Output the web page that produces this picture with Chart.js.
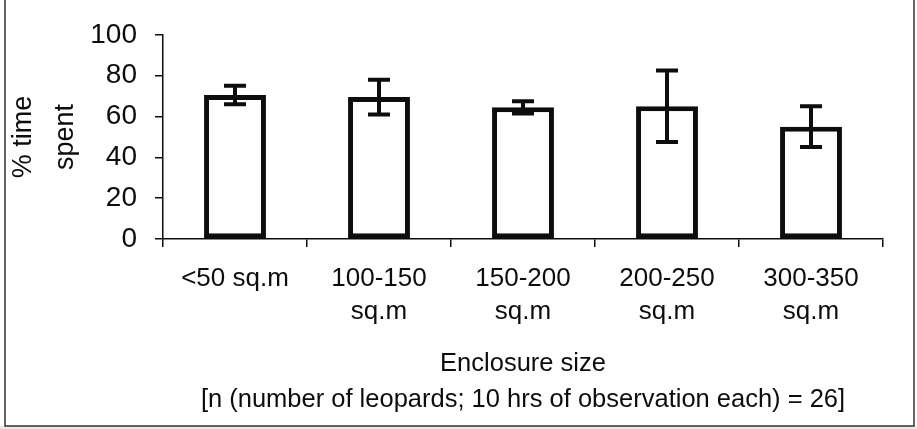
<!DOCTYPE html>
<html>
<head>
<meta charset="utf-8">
<script src="https://cdn.jsdelivr.net/npm/chart.js@4"></script>
<style>
  html, body { margin: 0; padding: 0; background: #fff; }
  #wrap { width: 917px; height: 429px; }
</style>
</head>
<body>
<div id="wrap"><canvas id="timeChart" width="917" height="429"></canvas></div>
<script>
// % time spent by enclosure size

const sizeLabels = [["<50 sq.m"], ["100-150", "sq.m"], ["150-200", "sq.m"], ["200-250", "sq.m"], ["300-350", "sq.m"]];
const timeSpent = [70.5, 69.5, 64.5, 65, 55];
const timeError = [4.5, 8.5, 3, 17.5, 10];
const yTicks = [0, 20, 40, 60, 80, 100];
const xTitle = ["Enclosure size", "[n (number of leopards; 10 hrs of observation each) = 26]"];
const yTitle = ["% time", "spent"];

const ink = "#0d0d0d";
const fontFamily = "'Liberation Sans', Arial, sans-serif";

// page background + scan frame
const framePlugin = {
  id: "frame",
  beforeDraw(chart) {
    const ctx = chart.ctx;
    ctx.save();
    ctx.fillStyle = "#ffffff";
    ctx.fillRect(0, 0, chart.width, chart.height);
    ctx.fillStyle = "#e9e9e9";
    ctx.fillRect(0, 426, chart.width, chart.height - 426);
    ctx.strokeStyle = "#333";
    ctx.lineWidth = 1.5;
    ctx.beginPath();
    ctx.moveTo(5, 0); ctx.lineTo(5, 426);
    ctx.lineTo(914, 426); ctx.lineTo(914, 0);
    ctx.stroke();
    ctx.restore();
  }
};

// error bars drawn from the y scale
const errorBarPlugin = {
  id: "errorBars",
  afterDatasetsDraw(chart) {
    const ctx = chart.ctx;
    const yScale = chart.scales.y;
    const meta = chart.getDatasetMeta(0);
    ctx.save();
    ctx.strokeStyle = ink;
    ctx.lineCap = "butt";
    meta.data.forEach((bar, i) => {
      const v = timeSpent[i];
      const e = timeError[i];
      const yHi = yScale.getPixelForValue(v + e);
      const yLo = yScale.getPixelForValue(v - e);
      ctx.lineWidth = 4;
      ctx.beginPath();
      ctx.moveTo(bar.x, yHi);
      ctx.lineTo(bar.x, yLo);
      ctx.moveTo(bar.x - 11, yHi);
      ctx.lineTo(bar.x + 11, yHi);
      ctx.moveTo(bar.x - 11, yLo);
      ctx.lineTo(bar.x + 11, yLo);
      ctx.stroke();
    });
    ctx.restore();
  }
};

new Chart(document.getElementById("timeChart"), {
  type: "bar",
  data: {
    labels: sizeLabels,
    datasets: [{
      data: timeSpent,
      backgroundColor: "#ffffff",
      borderColor: ink,
      borderWidth: 5,
      borderSkipped: false,
      barPercentage: 0.43,
      categoryPercentage: 1
    }]
  },
  options: {
    responsive: false,
    animation: false,
    layout: { padding: { left: 0, right: 34, top: 33, bottom: 0 } },
    plugins: {
      legend: { display: false },
      tooltip: { enabled: false }
    },
    scales: {
      x: {
        afterFit(scale) { scale.height = 190; },
        border: { display: true, color: ink, width: 1.5 },
        grid: { drawOnChartArea: false, drawTicks: true, tickLength: 8, color: ink, lineWidth: 1.5, offset: true },
        ticks: {
          color: ink,
          padding: 15,
          maxRotation: 0,
          font: { family: fontFamily, size: 26, lineHeight: 1.27 }
        },
        title: {
          display: true,
          text: xTitle,
          color: ink,
          padding: { top: 0, bottom: 11 },
          font: { family: fontFamily, size: 25.5, lineHeight: 1.42 }
        }
      },
      y: {
        min: 0,
        max: 100,
        afterFit(scale) { scale.width = 163; },
        afterBuildTicks(scale) { scale.ticks = yTicks.map(v => ({ value: v })); },
        border: { display: true, color: ink, width: 1.5 },
        grid: { drawOnChartArea: false, drawTicks: true, tickLength: 8, color: ink, lineWidth: 1.5 },
        ticks: {
          color: ink,
          padding: 18,
          font: { family: fontFamily, size: 28 }
        },
        title: {
          display: true,
          text: yTitle,
          color: ink,
          padding: { top: 2.5, bottom: 0 },
          font: { family: fontFamily, size: 27, lineHeight: 1.55 }
        }
      }
    }
  },
  plugins: [framePlugin, errorBarPlugin]
});
</script>
</body>
</html>
